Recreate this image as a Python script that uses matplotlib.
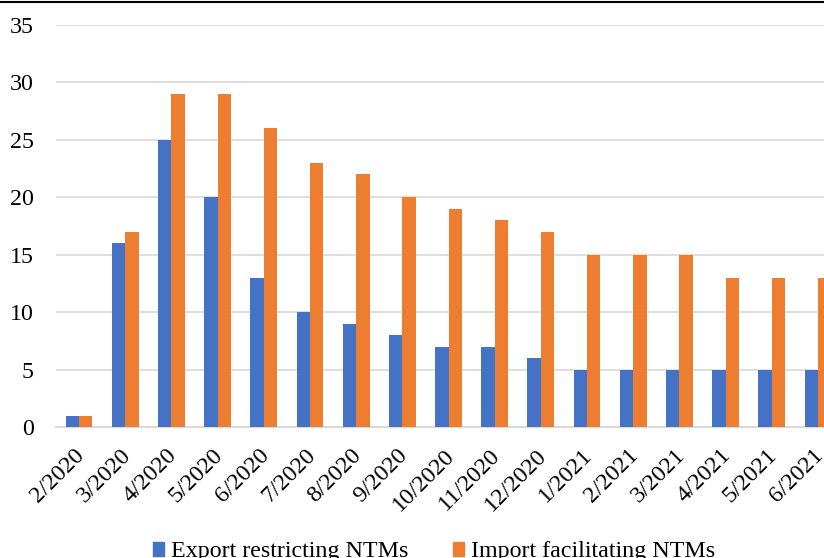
import matplotlib
matplotlib.use("Agg")
import matplotlib.pyplot as plt
import matplotlib.transforms as mtransforms
import numpy as np
from matplotlib.lines import Line2D

plt.rcParams['font.family'] = ['Liberation Serif', 'DejaVu Serif']

months = ["2/2020", "3/2020", "4/2020", "5/2020", "6/2020", "7/2020", "8/2020",
          "9/2020", "10/2020", "11/2020", "12/2020", "1/2021", "2/2021",
          "3/2021", "4/2021", "5/2021", "6/2021"]
export_restricting = [1, 16, 25, 20, 13, 10, 9, 8, 7, 7, 6, 5, 5, 5, 5, 5, 5]
import_facilitating = [1, 17, 29, 29, 26, 23, 22, 20, 19, 18, 17, 15, 15, 15, 13, 13, 13]
y_ticks = [0, 5, 10, 15, 20, 25, 30, 35]

blue = "#4472C4"
orange = "#ED7D31"
FS = 17.3

W, H = 824, 558
fig = plt.figure(figsize=(W / 100, H / 100), dpi=100)

# plot area runs past the right edge of the figure
left, right = 56, 841
top, bottom = 25, 427
ax = fig.add_axes([left / W, (H - bottom) / H, (right - left) / W, (bottom - top) / H])

x = np.arange(len(months))
bw = 0.29
ax.bar(x - bw / 2, export_restricting, bw, color=blue, zorder=3)
ax.bar(x + bw / 2, import_facilitating, bw, color=orange, zorder=3)

ax.set_xlim(-0.5, len(months) - 0.5)
ax.set_ylim(0, 35)
ax.set_yticks(y_ticks)
ax.set_yticklabels([str(v) for v in y_ticks], fontsize=FS)
ax.yaxis.grid(True, color="#d9d9d9", linewidth=1.2, zorder=0)
ax.set_axisbelow(True)

for s in ["top", "right", "left"]:
    ax.spines[s].set_visible(False)
ax.spines["bottom"].set_color("#d9d9d9")
ax.spines["bottom"].set_linewidth(1.5)
ax.tick_params(axis="y", length=0, pad=16)
ax.tick_params(axis="x", length=0, pad=13)

ax.set_xticks(x)
ax.set_xticklabels(months, fontsize=FS, rotation=45, ha="right", va="top",
                   rotation_mode="anchor")
shift = mtransforms.ScaledTranslation(-5 / 100, 0, fig.dpi_scale_trans)
for lbl in ax.get_xticklabels():
    lbl.set_transform(lbl.get_transform() + shift)

# thin black rule along the top edge
fig.add_artist(Line2D([0, 1], [1 - 1.5 / H, 1 - 1.5 / H], transform=fig.transFigure,
                      color="black", linewidth=1.5))

handles = [plt.Rectangle((0, 0), 1, 1, color=blue),
           plt.Rectangle((0, 0), 1, 1, color=orange)]
fig.legend(handles, ["Export restricting NTMs", "Import facilitating NTMs"],
           loc="center", bbox_to_anchor=(434 / W, 1 - 552 / H), ncol=2,
           frameon=False, fontsize=FS, handlelength=0.47, handleheight=0.5,
           handletextpad=0.3, columnspacing=1.85, borderpad=0)

fig.savefig("out.png", dpi=100)
